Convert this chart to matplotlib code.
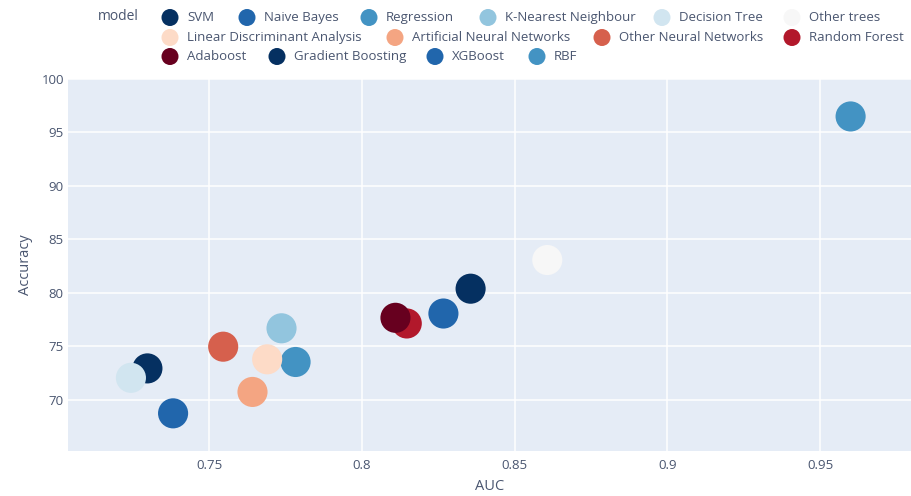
import matplotlib
matplotlib.use("Agg")
import matplotlib.pyplot as plt

# data
models = ["SVM", "Naive Bayes", "Regression", "K-Nearest Neighbour", "Decision Tree",
          "Other trees", "Linear Discriminant Analysis", "Artificial Neural Networks",
          "Other Neural Networks", "Random Forest", "Adaboost", "Gradient Boosting",
          "XGBoost", "RBF"]
auc = [0.7298, 0.7382, 0.7783, 0.7737, 0.7244, 0.8607, 0.7690, 0.7642,
       0.7546, 0.8147, 0.8110, 0.8356, 0.8267, 0.9600]
accuracy = [72.95, 68.75, 73.55, 76.7, 72.07, 83.08, 73.8, 70.75,
            74.98, 77.15, 77.68, 80.4, 78.08, 96.5]

# plotly RdBu (reversed), cycled over the traces
palette = ["#053061", "#2166ac", "#4393c3", "#92c5de", "#d1e5f0", "#f7f7f7",
           "#fddbc7", "#f4a582", "#d6604d", "#b2182b", "#67001f"]

xticks = [0.75, 0.8, 0.85, 0.9, 0.95]
xticklabels = ["0.75", "0.8", "0.85", "0.9", "0.95"]
yticks = [70, 75, 80, 85, 90, 95, 100]

plt.rcParams["font.family"] = ["Open Sans", "DejaVu Sans"]
txt = "#4a5670"

W, H = 912, 496
fig = plt.figure(figsize=(W / 100, H / 100), dpi=100)
fig.patch.set_facecolor("white")

# plot area in pixels: x 68..912, y 79..451
ax = fig.add_axes([68 / W, 1 - 451 / H, (912 - 68) / W, (451 - 79) / H])
ax.set_facecolor("#e5ecf6")
for s in ax.spines.values():
    s.set_visible(False)
ax.set_xlim(0.7038, 0.9801)
ax.set_ylim(65.23, 100)
ax.set_xticks(xticks)
ax.set_xticklabels(xticklabels)
ax.set_yticks(yticks)
ax.grid(True, color="white", linewidth=1.1)
ax.set_axisbelow(True)
ax.tick_params(length=0, labelsize=9.5, labelcolor=txt, pad=6)
ax.tick_params(axis="y", pad=3)
ax.set_xlabel("AUC", fontsize=10.5, color=txt, labelpad=5)
ax.set_ylabel("Accuracy", fontsize=10.5, color=txt, labelpad=6)

for i, m in enumerate(models):
    ax.scatter(auc[i], accuracy[i], s=470, color=palette[i % len(palette)],
               edgecolors="none", zorder=3, label=m)

# legend drawn in pixel coordinates, laid out like plotly's horizontal legend
leg = fig.add_axes([0, 0, 1, 1], facecolor="none")
leg.set_xlim(0, W)
leg.set_ylim(H, 0)
leg.axis("off")
leg.text(98, 17, "model", fontsize=10, color=txt, va="center", ha="left")
row_y = [17.5, 37.5, 56.5]
legend_x = [170, 247, 369, 488, 662, 792, 170, 395, 602, 792, 170, 277, 435, 537]
legend_row = [0, 0, 0, 0, 0, 0, 1, 1, 1, 1, 2, 2, 2, 2]
for i, m in enumerate(models):
    y = row_y[legend_row[i]]
    leg.scatter(legend_x[i], y, s=150, color=palette[i % len(palette)], edgecolors="none")
    leg.text(legend_x[i] + 17, y, m, fontsize=9.5, color=txt, va="center", ha="left")

fig.savefig("out.png", dpi=100)
